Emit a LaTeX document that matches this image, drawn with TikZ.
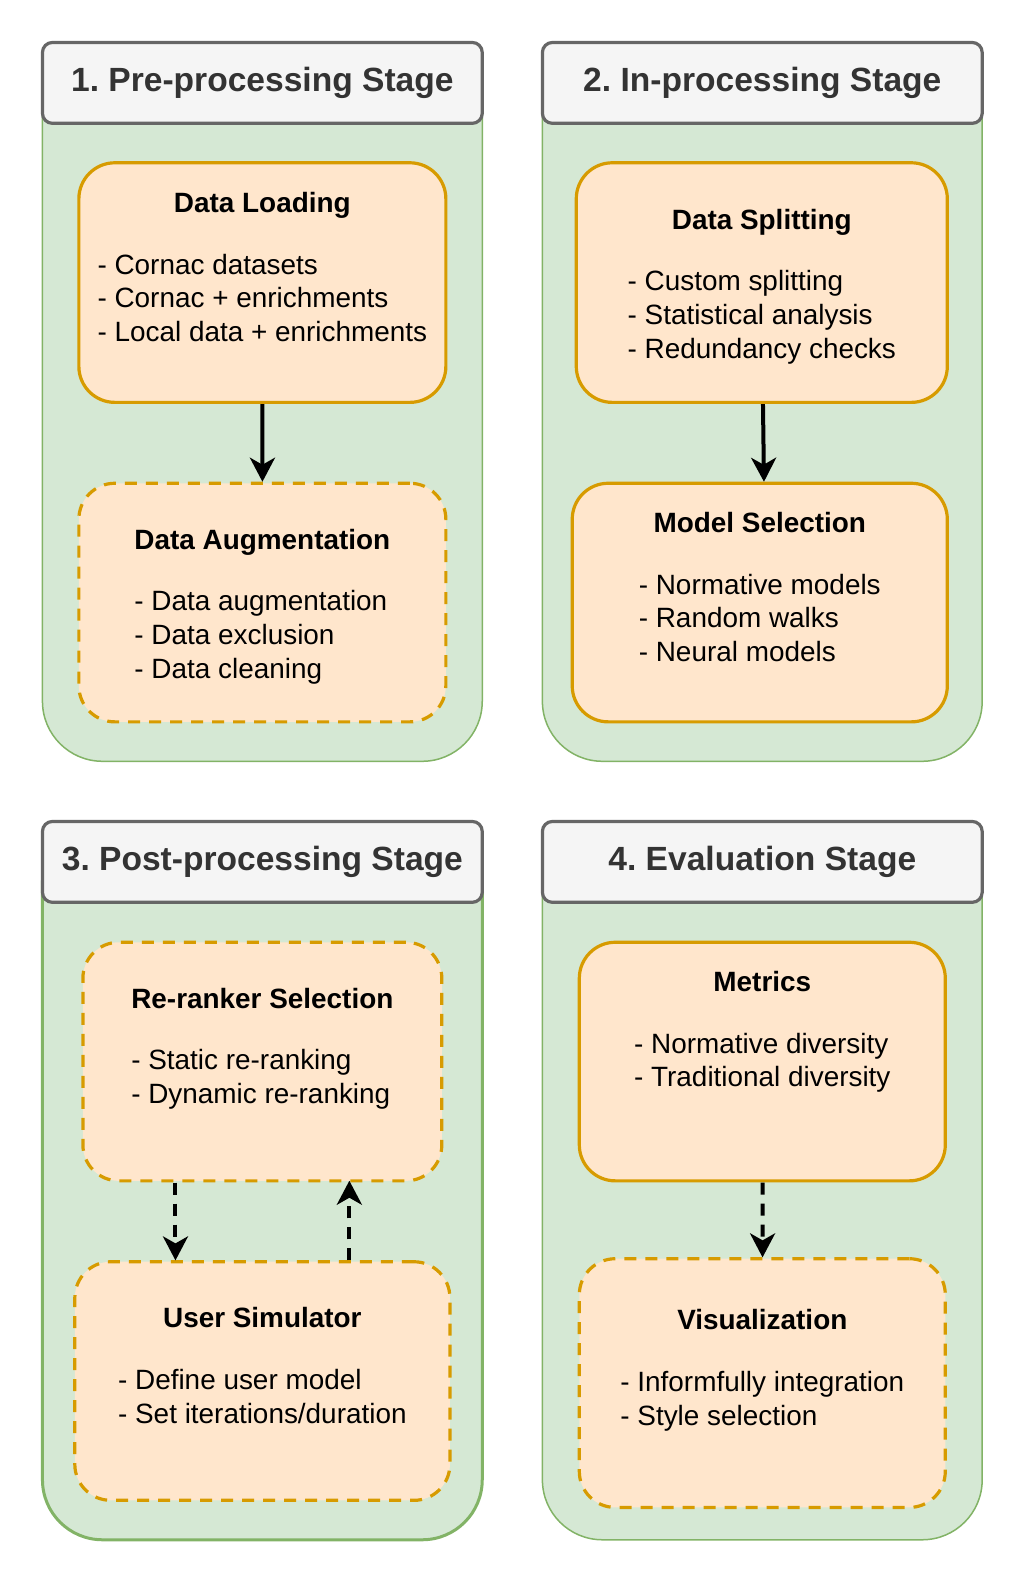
\documentclass[tikz,border=0pt]{standalone}
\usepackage{fontspec}
\setmainfont{Liberation Sans}
\usetikzlibrary{arrows.meta}
\frenchspacing

\definecolor{lanefill}{HTML}{D5E8D4}
\definecolor{laneline}{HTML}{82B366}
\definecolor{stepfill}{HTML}{FFE6CC}
\definecolor{stepline}{HTML}{D79B00}
\definecolor{hdrfill}{HTML}{F5F5F5}
\definecolor{hdrline}{HTML}{666666}
\definecolor{hdrtext}{HTML}{333333}

\newcommand{\steptext}[3]{\raisebox{-4.5pt}[\height][\depth]{\begin{tabular}{@{}l@{}}\multicolumn{1}{@{}c@{}}{\bfseries #1}\\[-5.8pt] {}\\ #2#3\end{tabular}}}

\tikzset{
    lane/.style={draw=laneline, fill=lanefill, line width=1.5pt, rounded corners=60pt, inner sep=0pt, minimum width=435pt, minimum height=711pt},
    header/.style={draw=hdrline, fill=hdrfill, line width=3.2pt, rounded corners=10pt, inner sep=0pt, minimum width=435pt, minimum height=80pt, text=hdrtext, font=\fontsize{33.2}{38}\selectfont\bfseries},
    stepbox/.style={draw=stepline, fill=stepfill, line width=3.2pt, rounded corners=36pt, inner sep=0pt, minimum height=236pt, font=\fontsize{27.6}{33.4}\selectfont},
    dashbox/.style={stepbox, dash pattern=on 12pt off 9pt},
    flow/.style={line width=4pt, -{Stealth[length=24pt, width=25pt, inset=7pt]}},
    dashflow/.style={flow, dash pattern=on 12pt off 9pt}
}

\begin{document}
\begin{tikzpicture}[x=1pt, y=-1pt, scale=1.011, transform shape]
    \useasboundingbox (0,0) rectangle (1012.86,1568.74);

    % Carriles
    \node[lane] (lane1) at (259.5,397.5) {};
    \node[lane] (lane2) at (754,397.5) {};
    \node[lane, line width=3pt, minimum height=710pt] (lane3) at (259.5,1168) {};
    \node[lane, minimum height=710pt] (lane4) at (754,1168) {};

    % Cabeceras
    \node[header] (hdr1) at (259.5,82) {1. Pre-processing Stage};
    \node[header] (hdr2) at (754,82) {2. In-processing Stage};
    \node[header] (hdr3) at (259.5,852.5) {3. Post-processing Stage};
    \node[header] (hdr4) at (754,852.5) {4. Evaluation Stage};

    % Etapa 1
    \node[stepbox, minimum width=363pt, minimum height=237pt] (load) at (259.5,279.5)
        {\steptext{Data Loading}{- Cornac datasets\\ - Cornac + enrichments\\ - Local data + enrichments}{\\ {}}};
    \node[dashbox, minimum width=363pt] (aug) at (259.5,596)
        {\steptext{Data Augmentation}{- Data augmentation\\ - Data exclusion\\ - Data cleaning}{}};

    % Etapa 2
    \node[stepbox, minimum width=367pt, minimum height=237pt] (split) at (753.5,279.5)
        {\steptext{Data Splitting}{- Custom splitting\\ - Statistical analysis\\ - Redundancy checks}{}};
    \node[stepbox, minimum width=371pt] (model) at (751.5,596)
        {\steptext{Model Selection}{- Normative models\\ - Random walks\\ - Neural models}{\\ {}}};

    % Etapa 3
    \node[dashbox, minimum width=355pt] (rerank) at (259.5,1050)
        {\steptext{Re-ranker Selection}{- Static re-ranking\\ - Dynamic re-ranking}{\\ {}}};
    \node[dashbox, minimum width=371pt] (usim) at (259.5,1366)
        {\steptext{User Simulator}{- Define user model\\ - Set iterations/duration}{\\ {}}};

    % Etapa 4
    \node[stepbox, minimum width=362pt] (metrics) at (754,1050)
        {\steptext{Metrics}{- Normative diversity\\ - Traditional diversity}{\\ {}\\ {}}};
    \node[dashbox, minimum width=362pt, minimum height=246pt] (vis) at (754,1368)
        {\steptext{Visualization}{- Informfully integration\\ - Style selection}{\\ {}}};

    % Flechas
    \draw[flow] (load) -- (aug);
    \draw[flow] ([xshift=1pt]split.south) -- ([xshift=4pt]model.north);
    \draw[dashflow] ([xshift=-86pt]rerank.south) -- ([xshift=-86pt]usim.north);
    \draw[dashflow] ([xshift=86pt]usim.north) -- ([xshift=86pt,yshift=2pt]rerank.south);
    \draw[dashflow] (metrics) -- (vis);
\end{tikzpicture}
\end{document}
